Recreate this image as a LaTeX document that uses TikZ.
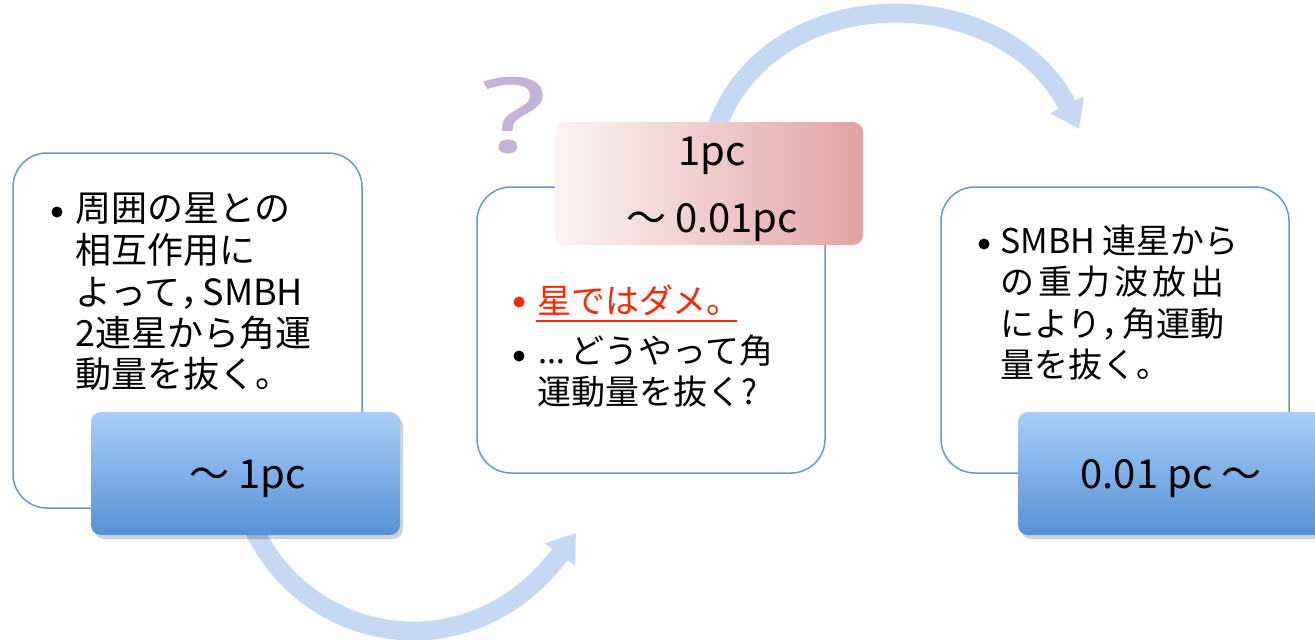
\documentclass[tikz,border=0pt]{standalone}
\usepackage{fontspec}
\setmainfont{Noto Sans CJK JP}
\newfontfamily\latfont{Noto Sans}
\usetikzlibrary{arrows.meta,shadows}
\definecolor{boxline}{RGB}{104,152,204}
\definecolor{tagtop}{RGB}{170,205,248}
\definecolor{tagbot}{RGB}{84,146,214}
\definecolor{pinkr}{RGB}{224,164,162}
\definecolor{pinkl}{RGB}{252,244,244}
\definecolor{arrowc}{RGB}{198,217,243}
\definecolor{qmark}{RGB}{196,178,216}
\definecolor{redtxt}{RGB}{255,38,0}
\newcommand{\narrowcomma}{\makebox[0.62em][l]{，}}
\tikzset{
  box/.style={draw=boxline, line width=1.5pt, fill=white, rounded corners=34pt, inner sep=0pt},
  bluetag/.style={top color=tagtop, bottom color=tagbot, draw=none, rounded corners=10pt,
    minimum width=309pt, minimum height=123pt, inner sep=0pt,
    drop shadow={shadow xshift=3pt, shadow yshift=-4pt, opacity=0.18, fill=black}},
  pinktag/.style={left color=pinkl, right color=pinkr, draw=none, rounded corners=10pt,
    minimum width=308pt, minimum height=123pt, inner sep=0pt},
  bigarrow/.style={draw=arrowc, line width=19pt,
    -{Triangle[length=27pt,width=36pt]}},
  txtA/.style={anchor=base west, inner sep=0pt, font=\fontsize{36}{41}\selectfont},
  txtB/.style={anchor=base west, inner sep=0pt, font=\fontsize{34}{41}\selectfont},
  tagtxt/.style={anchor=base, inner sep=0pt, font=\fontsize{40}{44}\selectfont},
  bul/.style={circle, fill=#1, inner sep=0pt, minimum size=11pt},
}
\begin{document}
\begin{tikzpicture}[x=1pt,y=-1pt]
\clip (0,0) rectangle (1315,640);
\fill[white] (0,0) rectangle (1315,640);

% curved arrows (drawn first, tails hidden under the tags)
\coordinate (a1s) at (252,525);
\coordinate (a1e) at (576,533);
\draw[bigarrow] (a1s) .. controls (305,645) and (470,675) .. (a1e);
\coordinate (a2s) at (714,135);
\coordinate (a2e) at (1079,129);
\draw[bigarrow] (a2s) .. controls (765,-25) and (1005,-20) .. (a2e);

% boxes
\node[box, minimum width=349pt, minimum height=355pt] (box1) at (187.5,330.5) {};
\node[box, minimum width=348pt, minimum height=286pt] (box2) at (651,330) {};
\node[box, minimum width=348pt, minimum height=286pt] (box3) at (1115,330) {};

% box 1 text
\node[bul=black] (b1d) at (57,212) {};
\node[txtA] (b1l1) at (75,221) {周囲の星との};
\node[txtA] (b1l2) at (75,263) {相互作用に};
\node[txtA] (b1l3) at (75,305) {よって\narrowcomma SMBH};
\node[txtA] (b1l4) at (75,346) {2連星から角運};
\node[txtA] (b1l5) at (75,387) {動量を抜く。};

% box 2 text
\node[bul=redtxt] (b2d1) at (519,302) {};
\node[txtB, text=redtxt] (b2l1) at (537,313) {星ではダメ。};
\draw[redtxt, line width=2pt] (536,321) -- (737,321);
\node[bul=black] (b2d2) at (519,356) {};
\node[txtB] (b2l2) at (538,363) {{\latfont …}\,どうやって角};
\node[txtB] (b2l3) at (537,404) {運動量を抜く?};

% box 3 text
\node[bul=black] (b3d) at (984,244) {};
\node[txtB] (b3l1) at (1000,253) {SMBH 連星から};
\node[txtB] (b3l2) at (1000,294) {の\hspace{4pt}重\hspace{4pt}力\hspace{4pt}波\hspace{4pt}放\hspace{4pt}出};
\node[txtB] (b3l3) at (1000,336) {により\narrowcomma 角運動};
\node[txtB] (b3l4) at (1000,377) {量を抜く。};

% question mark
\node[text=qmark, inner sep=0pt, font=\latfont\fontsize{104}{110}\selectfont, xscale=1.45, anchor=base] (q) at (514,152) {?};

% tags
\node[bluetag] (tag1) at (245.5,473.5) {};
\node[tagtxt] (t1) at (248,488) {～ 1pc};
\node[pinktag] (tag2) at (709,183.5) {};
\node[tagtxt] (t2a) at (712,165) {1pc};
\node[tagtxt] (t2b) at (712,232) {～ 0.01pc};
\node[bluetag] (tag3) at (1172.5,473.5) {};
\node[tagtxt] (t3) at (1171,488) {0.01 pc ～};
\end{tikzpicture}
\end{document}
